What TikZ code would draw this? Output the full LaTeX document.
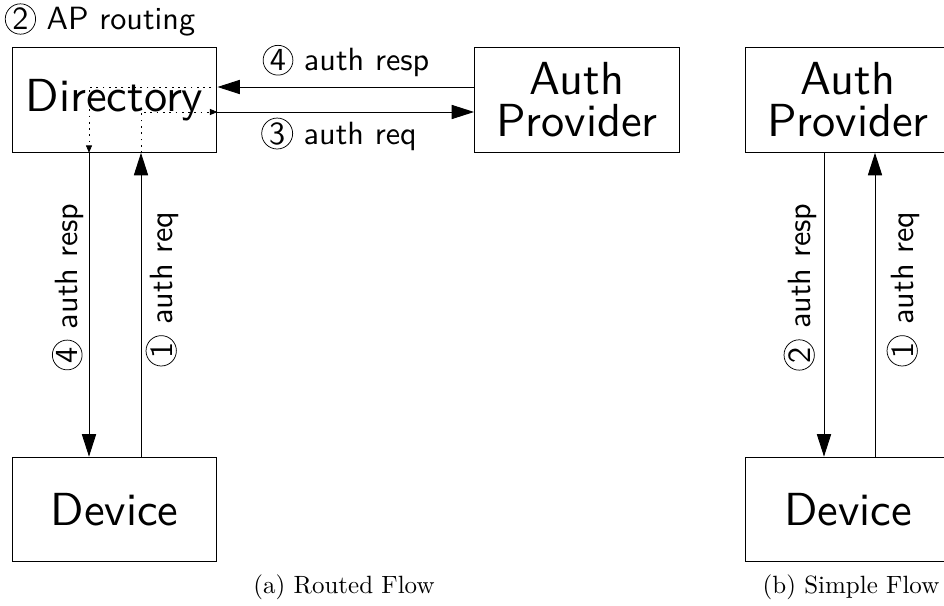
\documentclass[tikz,border=0pt]{standalone}
\usepackage{fontspec}
\usetikzlibrary{arrows.meta,positioning}

% ten point designs, scaled up
\newfontfamily\boxsf{lmsans10-regular.otf}
\newfontfamily\caprm{lmroman10-regular.otf}

% circled step number
\newcommand{\stepno}[1]{\tikz[baseline=(n.base)]\node[draw,circle,line width=0.5pt,inner sep=0.8pt](n){#1};}

\begin{document}
\begin{tikzpicture}[x=0.0235cm, y=-0.0235cm,
        box/.style={draw, line width=0.7pt, minimum width=137pt, minimum height=70pt, inner sep=0pt,
            align=center, font=\boxsf\fontsize{31}{28}\selectfont},
        lbl/.style={font=\boxsf\fontsize{21.5}{25}\selectfont, inner sep=0pt},
        subcap/.style={font=\caprm\fontsize{16.7}{20}\selectfont},
        big/.style={line width=0.6pt, -{Triangle[length=15pt,width=9.5pt]}},
        small/.style={line width=0.6pt, dash pattern=on 1.2pt off 3pt, -{Triangle[length=5pt,width=4pt]}}]
        \useasboundingbox (0,0) rectangle (944,606);

        % routed flow
        \node[box] (dir) at (114.5,100) {Directory};
        \node[box] (apA) at (577,100) {Auth\\Provider};
        \node[box] (devA) at (114.5,509.5) {Device};

        \draw[big] (apA.west |- 0,87) -- (dir.east |- 0,87);
        \draw[big] (dir.east |- 0,112) -- (apA.west |- 0,112);
        \draw[big] (dir.south -| 89,0) -- (devA.north -| 89,0);
        \draw[big] (devA.north -| 141,0) -- (dir.south -| 141,0);

        % routing inside the directory
        \draw[small] (dir.east |- 0,87) -- (89,87) -- (dir.south -| 89,0);
        \draw[small] (dir.south -| 141,0) -- (141,112) -- (dir.east |- 0,112);

        \node[lbl] (route) at (100,20) {\stepno{2} AP routing};
        \node[lbl] (respA) at (346,61) {\stepno{4} auth resp};
        \node[lbl] (reqA) at (339,134) {\stepno{3} auth req};
        \node[lbl, rotate=90] (respDev) at (68,287) {\stepno{4} auth resp};
        \node[lbl, rotate=90] (reqDev) at (162,289) {\stepno{1} auth req};

        \node[subcap] (capA) at (344,587) {(a) Routed Flow};

        % simple flow
        \node[box] (apB) at (848,100) {Auth\\Provider};
        \node[box] (devB) at (848,509.5) {Device};

        \draw[big] (apB.south -| 824,0) -- (devB.north -| 824,0);
        \draw[big] (devB.north -| 875,0) -- (apB.south -| 875,0);

        \node[lbl, rotate=90] (respB) at (800,287) {\stepno{2} auth resp};
        \node[lbl, rotate=90] (reqB) at (903,289) {\stepno{1} auth req};

        \node[subcap] (capB) at (851,587) {(b) Simple Flow};
    \end{tikzpicture}
\end{document}
